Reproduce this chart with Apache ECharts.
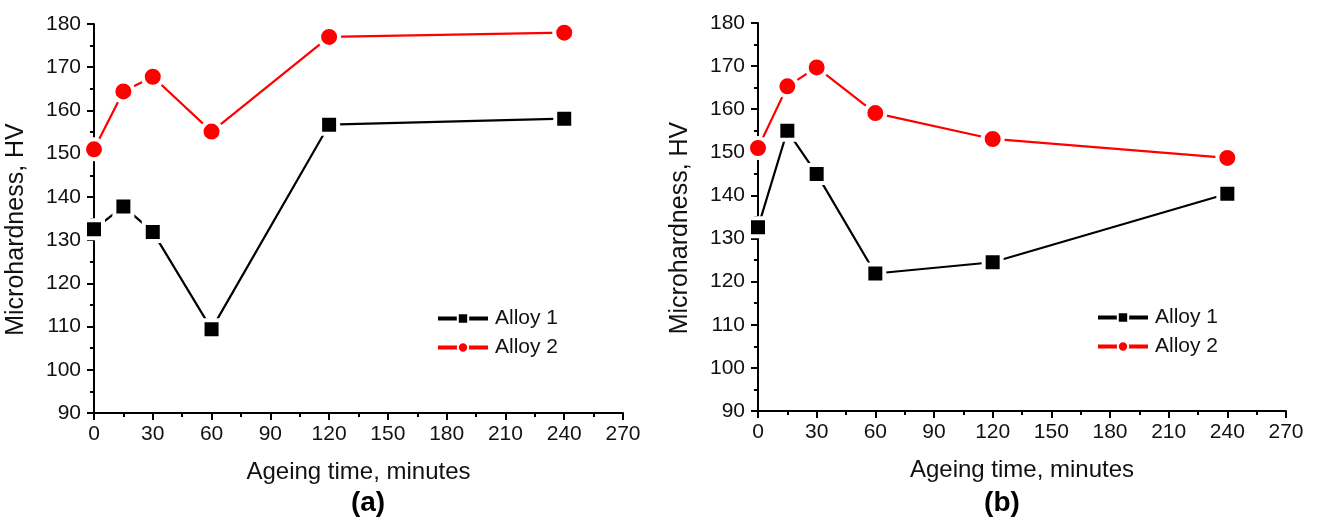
<!DOCTYPE html>
<html>
<head>
<meta charset="utf-8">
<script src="https://cdn.jsdelivr.net/npm/echarts@6/dist/echarts.min.js"></script>
<style>html,body{margin:0;padding:0;background:#fff}#c{width:1319px;height:520px}</style>
</head>
<body>
<div id="c"></div>
<script>
var times = [0, 15, 30, 60, 120, 240];
var alloy1A = [132.5, 137.8, 131.9, 109.4, 156.7, 158.1];
var alloy2A = [151.0, 164.4, 167.8, 155.1, 177.0, 178.0];
var alloy1B = [132.6, 155.0, 145.0, 121.9, 124.5, 140.4];
var alloy2B = [151.0, 165.3, 169.7, 159.1, 153.1, 148.7];
var xTicks = {min: 0, max: 270, interval: 30};
var yTicks = {min: 90, max: 180, interval: 10};
var seriesNames = ['Alloy 1', 'Alloy 2'];
var panelLabels = ['(a)', '(b)'];

function pairs(xs, ys) { return xs.map(function (x, i) { return [x, ys[i]]; }); }

var FONT = 'Liberation Sans, Arial, sans-serif';
var TXT = '#111';
var axisCommonX = function (idx) {
  return {
    type: 'value', gridIndex: idx, min: xTicks.min, max: xTicks.max, interval: xTicks.interval,
    name: 'Ageing time, minutes', nameLocation: 'middle', nameGap: 47,
    nameTextStyle: {fontFamily: FONT, fontSize: 24, color: TXT},
    axisLine: {show: true, onZero: false, lineStyle: {color: '#000', width: 2}},
    axisTick: {show: true, inside: false, length: 7, lineStyle: {color: '#000', width: 2}},
    minorTick: {show: true, splitNumber: 2, length: 4, lineStyle: {color: '#000', width: 2}},
    axisLabel: {fontFamily: FONT, fontSize: 21, color: TXT, margin: 11},
    splitLine: {show: false}, minorSplitLine: {show: false}
  };
};
var axisCommonY = function (idx) {
  return {
    type: 'value', gridIndex: idx, min: yTicks.min, max: yTicks.max, interval: yTicks.interval,
    name: 'Microhardness, HV', nameLocation: 'middle', nameGap: 65, nameRotate: 90,
    nameTextStyle: {fontFamily: FONT, fontSize: 25, color: TXT, padding: [0, 22, 0, 0]},
    axisLine: {show: true, onZero: false, lineStyle: {color: '#000', width: 2}},
    axisTick: {show: true, inside: false, length: 7, lineStyle: {color: '#000', width: 2}},
    minorTick: {show: true, splitNumber: 2, length: 4, lineStyle: {color: '#000', width: 2}},
    axisLabel: {fontFamily: FONT, fontSize: 21, color: TXT, margin: 13},
    splitLine: {show: false}, minorSplitLine: {show: false}
  };
};

function lineSeries(name, data, idx, color, symbol, size) {
  return {
    name: name, type: 'line', xAxisIndex: idx, yAxisIndex: idx, data: data,
    symbol: symbol, symbolSize: size, showAllSymbol: true, clip: false,
    lineStyle: {color: color, width: 2.2},
    itemStyle: {color: color, borderColor: '#fff', borderWidth: 4},
    emphasis: {disabled: true}, animation: false
  };
}

function legendAt(left, top) {
  return {
    orient: 'vertical', left: left, top: top, itemWidth: 50, itemHeight: 13, itemGap: 8,
    lineStyle: {width: 4},
    textStyle: {fontFamily: FONT, fontSize: 21, color: TXT, padding: [0, 0, 0, 2]},
    data: [{name: seriesNames[0]}, {name: seriesNames[1]}], selectedMode: false
  };
}

var chart = echarts.init(document.getElementById('c'), null, {renderer: 'canvas'});
chart.setOption({
  animation: false,
  backgroundColor: '#fff',
  grid: [
    {left: 94, top: 24, width: 529, height: 389},
    {left: 758, top: 23, width: 528, height: 388}
  ],
  xAxis: [axisCommonX(0), axisCommonX(1)],
  yAxis: [axisCommonY(0), axisCommonY(1)],
  legend: [legendAt(431, 303), legendAt(1091, 302)],
  series: [
    lineSeries(seriesNames[0], pairs(times, alloy1A), 0, '#000', 'rect', 18),
    lineSeries(seriesNames[1], pairs(times, alloy2A), 0, '#ff0000', 'circle', 20),
    lineSeries(seriesNames[0], pairs(times, alloy1B), 1, '#000', 'rect', 18),
    lineSeries(seriesNames[1], pairs(times, alloy2B), 1, '#ff0000', 'circle', 20)
  ],
  graphic: [
    {type: 'text', x: 368, y: 503, style: {text: panelLabels[0], font: 'bold 28px ' + FONT, fill: '#000', textAlign: 'center', textVerticalAlign: 'middle'}},
    {type: 'text', x: 1002, y: 503, style: {text: panelLabels[1], font: 'bold 28px ' + FONT, fill: '#000', textAlign: 'center', textVerticalAlign: 'middle'}}
  ]
});
</script>
</body>
</html>
